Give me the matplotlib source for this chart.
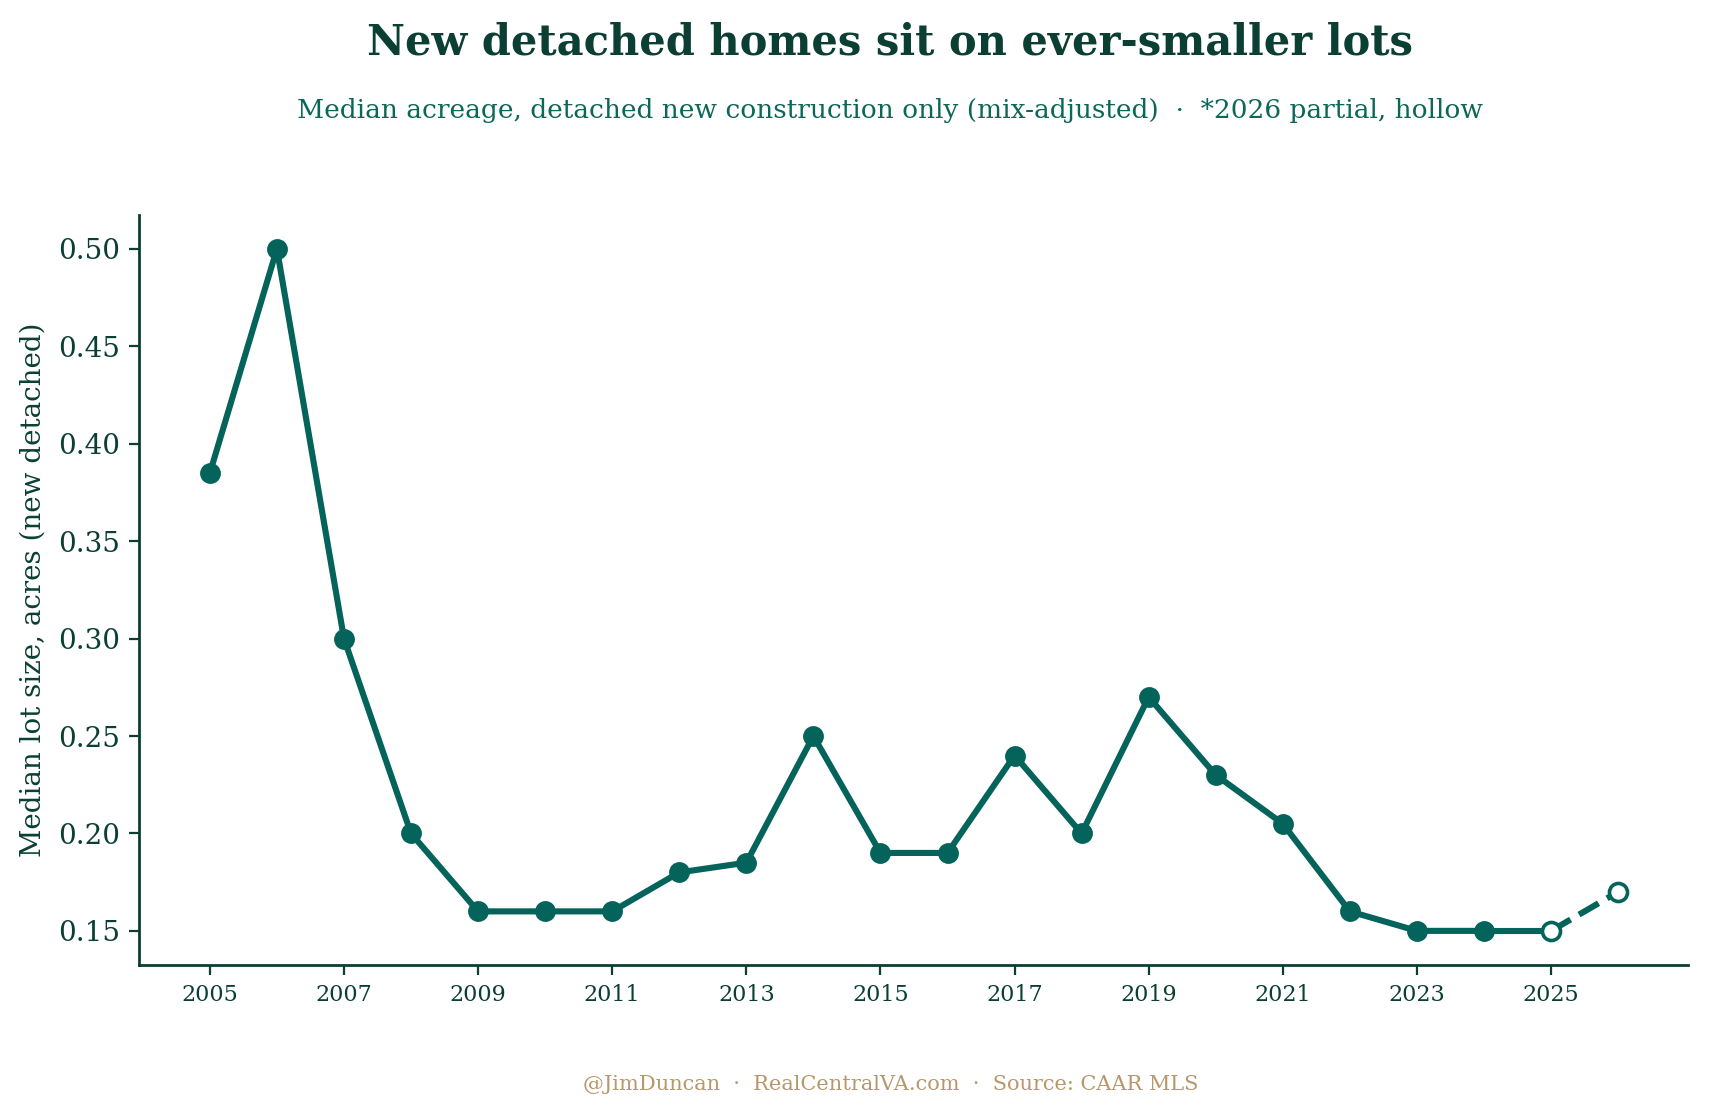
import matplotlib
matplotlib.use("Agg")
import matplotlib.pyplot as plt

STYLE = {
    "title":  "#0b3f33",
    "sub":    "#0b6757",
    "line":   "#04635a",
    "axis":   "#0b3f33",
    "footer": "#b8976a",
}

plt.rcParams.update({
    "font.family": "DejaVu Serif",
    "text.color":  STYLE["axis"],
})

# median lot size (acres), detached new construction
years = [2005, 2006, 2007, 2008, 2009, 2010, 2011, 2012, 2013, 2014, 2015,
         2016, 2017, 2018, 2019, 2020, 2021, 2022, 2023, 2024, 2025]
acres = [0.385, 0.50, 0.30, 0.20, 0.16, 0.16, 0.16, 0.18, 0.185, 0.25, 0.19,
         0.19, 0.24, 0.20, 0.27, 0.23, 0.205, 0.16, 0.15, 0.15, 0.15]

# partial years (hollow markers)
partial_years = [2025, 2026]
partial_acres = [0.15, 0.17]

tick_years = list(range(2005, 2026, 2))

fig = plt.figure(figsize=(8.545, 5.565), dpi=200)
ax = fig.add_axes([0.0816, 0.133, 0.9064, 0.674])

ax.plot(years[:-1], acres[:-1], color=STYLE["line"], linewidth=2.2,
        marker="o", markersize=6.5, zorder=3)
ax.plot(years[-2:], acres[-2:], color=STYLE["line"], linewidth=2.2, zorder=3)
ax.plot(partial_years, partial_acres, color=STYLE["line"], linewidth=2.2,
        linestyle="--", marker="o", markersize=6.5,
        markerfacecolor="white", markeredgecolor=STYLE["line"],
        markeredgewidth=1.3, zorder=4)

ax.set_xticks(tick_years)
ax.set_yticks([0.15, 0.20, 0.25, 0.30, 0.35, 0.40, 0.45, 0.50])
ax.yaxis.set_major_formatter(plt.FuncFormatter(lambda v, _: f"{v:.2f}"))
ax.tick_params(axis="x", labelsize=8, colors=STYLE["axis"])
ax.tick_params(axis="y", labelsize=10, colors=STYLE["axis"])
ax.set_ylabel("Median lot size, acres (new detached)", fontsize=10,
              color=STYLE["axis"])

for side in ["top", "right"]:
    ax.spines[side].set_visible(False)
for side in ["left", "bottom"]:
    ax.spines[side].set_color(STYLE["axis"])
    ax.spines[side].set_linewidth(1.0)

fig.text(0.521, 0.962, "New detached homes sit on ever-smaller lots",
         ha="center", va="center", fontsize=15, fontweight="bold",
         color=STYLE["title"])
fig.text(0.521, 0.901,
         "Median acreage, detached new construction only (mix-adjusted)  \u00b7  *2026 partial, hollow",
         ha="center", va="center", fontsize=9.5, color=STYLE["sub"])
fig.text(0.521, 0.026,
         "@JimDuncan  \u00b7  RealCentralVA.com  \u00b7  Source: CAAR MLS",
         ha="center", va="center", fontsize=7.5, color=STYLE["footer"])

fig.savefig("out.png", dpi=200, facecolor="white")
